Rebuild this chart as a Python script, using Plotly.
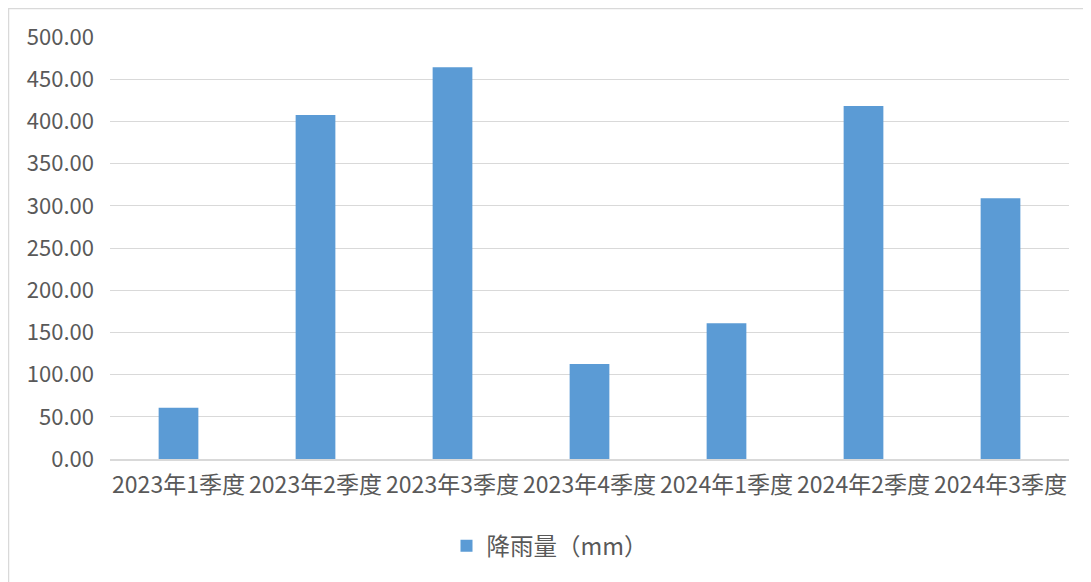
import plotly.graph_objects as go

categories = ["2023年1季度", "2023年2季度", "2023年3季度", "2023年4季度",
              "2024年1季度", "2024年2季度", "2024年3季度"]
rainfall = [60.8, 407.6, 464.1, 112.6, 160.7, 418.2, 308.8]
series_name = "降雨量（mm）"
y_ticks = [0, 50, 100, 150, 200, 250, 300, 350, 400, 450, 500]

OFF = 8  # page body margin
W, H = 1091 - OFF, 582 - OFF
L, T = 110 - OFF, 37 - OFF
R = W - (1069 - OFF)
B = H - (459 - OFF)
pw, ph = W - L - R, H - T - B

font_family = "Microsoft YaHei, Noto Sans CJK SC, sans-serif"
text_color = "#595959"

fig = go.Figure()
fig.add_trace(go.Bar(
    x=categories, y=rainfall, name=series_name,
    marker=dict(color="#5B9BD5", line=dict(width=0)),
    width=0.29,
))

def px_x(p):
    return (p - OFF - L) / pw

def px_y(p):
    return (H - B - (p - OFF)) / ph

fig.update_layout(
    width=W, height=H,
    margin=dict(l=L, r=R, t=T, b=B),
    paper_bgcolor="white", plot_bgcolor="white",
    font=dict(family=font_family, color=text_color, size=20),
    showlegend=True,
    legend=dict(orientation="h", x=px_x(550), xanchor="center",
                y=px_y(546), yanchor="middle",
                font=dict(size=23.5, color=text_color),
                itemwidth=30),
    xaxis=dict(showgrid=False, showline=True, linecolor="#D9D9D9", linewidth=1.5,
               ticks="", tickfont=dict(size=23, color=text_color),
               ticklabelstandoff=5,
               range=[-0.5, 6.5]),
    yaxis=dict(range=[0, 500], tickvals=y_ticks,
               ticktext=[f"{v:.2f}" for v in y_ticks],
               showgrid=True, gridcolor="#D9D9D9", gridwidth=1.3,
               zeroline=False, showline=False, ticks="",
               ticklabelstandoff=15,
               tickfont=dict(size=22, color=text_color)),
    shapes=[dict(type="rect", xref="paper", yref="paper",
                 x0=px_x(8.5), x1=px_x(1100), y0=px_y(600), y1=px_y(8.5),
                 line=dict(color="#D9D9D9", width=1.5), fillcolor="rgba(0,0,0,0)",
                 layer="below")],
)

fig.write_html("out.html")
